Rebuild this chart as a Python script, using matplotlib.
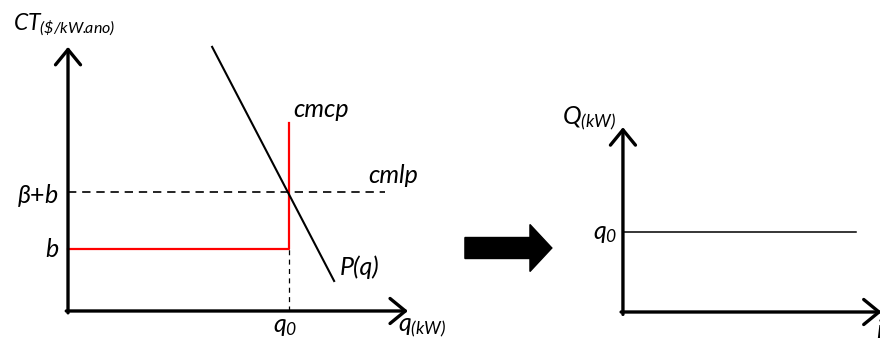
import matplotlib
matplotlib.use('Agg')
import matplotlib.pyplot as plt
from matplotlib.patches import FancyArrow

plt.rcParams['font.family'] = ['Lato', 'DejaVu Sans']
plt.rcParams['mathtext.fontset'] = 'custom'
plt.rcParams['mathtext.it'] = 'Lato:italic'
plt.rcParams['mathtext.rm'] = 'Lato:italic'

# left diagram: cost curves (arbitrary units, b = 1, q0 = 1)
q0 = 1.0
b = 1.0
beta_b = 1.92
cmcp_top = 3.03
cmlp_end = 1.434
q_axis_end = 1.538
ct_axis_end = 4.26
pq_x = [0.652, 1.204]
pq_y = [4.26, 0.484]

# right diagram: constant load q0 over the period
t_line = [0.0, 1.0]
Q_line = [1.0, 1.0]
t_axis_end = 1.11
Q_axis_end = 2.31

fig = plt.figure(figsize=(8.8, 3.4), dpi=100)
ax1 = fig.add_axes([0, 0, 0.5, 1])
ax2 = fig.add_axes([0.5, 0, 0.5, 1])
ax1.set_xlim(-0.3077, 1.683)
ax1.set_ylim(-0.468, 5.016)
ax2.set_xlim(-0.785, 1.103)
ax2.set_ylim(-0.35, 3.9)
for ax in (ax1, ax2):
    ax.axis('off')

arrow = dict(arrowstyle='->,head_length=0.55,head_width=0.45', lw=2.4,
             color='black', shrinkA=0, shrinkB=0, mutation_scale=20)

# left axes
ax1.annotate('', xy=(0, ct_axis_end), xytext=(0, -0.03), arrowprops=arrow)
ax1.annotate('', xy=(q_axis_end, 0), xytext=(-0.008, 0), arrowprops=arrow)

ax1.plot([0, cmlp_end], [beta_b, beta_b], color='black', lw=1.2, ls=(0, (5, 3.5)))
ax1.plot([q0, q0], [0, b], color='black', lw=0.9, ls=(0, (4, 3.5)))
ax1.plot([0, q0, q0], [b, b, cmcp_top], color='#ff0000', lw=1.6)
ax1.plot(pq_x, pq_y, color='black', lw=1.5)

fs = 18
ax1.text(-0.249, 4.53, r'$CT_{(\$/kW.\!\!ano)}$', fontsize=16.5, va='baseline')
ax1.text(-0.041, 1.74, r'$\beta$+$b$', fontsize=fs, ha='right', va='baseline')
ax1.text(-0.041, 0.871, r'$b$', fontsize=fs, ha='right', va='baseline')
ax1.text(1.018, 3.13, 'cmcp', fontsize=fs, style='italic', va='baseline')
ax1.text(1.357, 2.065, 'cmlp', fontsize=fs, style='italic', va='baseline')
ax1.text(1.231, 0.58, 'P(q)', fontsize=fs, style='italic', va='baseline')
ax1.text(0.928, -0.339, r'$q_0$', fontsize=fs, va='baseline')
ax1.text(1.493, -0.339, r'$q_{(kW)}$', fontsize=fs, va='baseline')

# block arrow between the diagrams
ax2.add_patch(FancyArrow(-0.678, 0.8, 0.373, 0, width=0.2625, head_width=0.5875,
                         head_length=0.094, length_includes_head=True,
                         color='black', clip_on=False))

# right axes
ax2.annotate('', xy=(0, Q_axis_end), xytext=(0, -0.03), arrowprops=arrow)
ax2.annotate('', xy=(t_axis_end, 0), xytext=(-0.008, 0), arrowprops=arrow,
             annotation_clip=False)
ax2.plot(t_line, Q_line, color='black', lw=1.1)

ax2.text(-0.262, 2.34, r'$Q_{(kW)}$', fontsize=fs, va='baseline')
ax2.text(-0.026, 0.91, r'$q_0$', fontsize=fs, ha='right', va='baseline')
ax2.text(1.085, -0.33, 'i', fontsize=fs, style='italic', va='baseline')

fig.savefig('out.png', dpi=100)
